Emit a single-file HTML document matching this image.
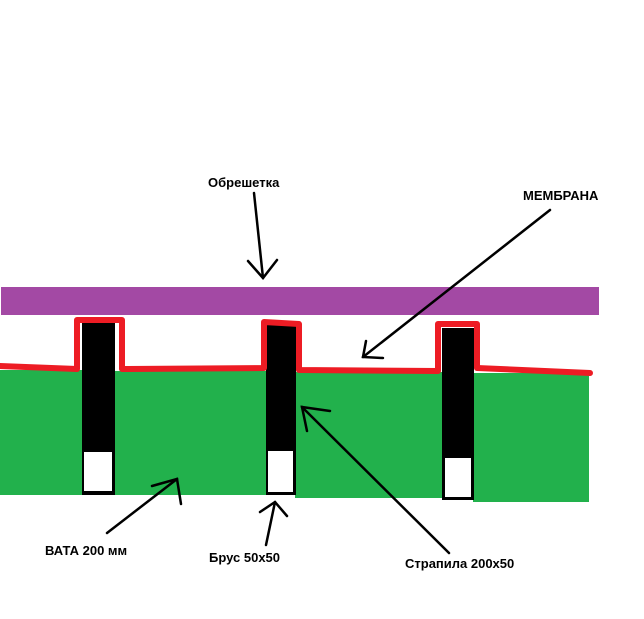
<!DOCTYPE html>
<html><head><meta charset="utf-8"><style>
html,body{margin:0;padding:0;background:#fff;}
svg{display:block;}
text{font-family:"Liberation Sans","DejaVu Sans",sans-serif;font-weight:bold;font-size:13px;fill:#000;}
</style></head><body>
<svg width="644" height="619" viewBox="0 0 644 619" xmlns="http://www.w3.org/2000/svg">
<rect x="0" y="0" width="644" height="619" fill="#fff"/>
<rect x="1" y="287" width="598" height="28" fill="#a349a4"/>
<rect x="0" y="370" width="84" height="125" fill="#22b14c"/>
<rect x="114" y="371" width="153" height="124" fill="#22b14c"/>
<rect x="295" y="372" width="149" height="126" fill="#22b14c"/>
<rect x="473" y="373" width="116" height="129" fill="#22b14c"/>
<rect x="82" y="322" width="33" height="173" fill="#000"/>
<rect x="84" y="452" width="28" height="39" fill="#fff"/>
<rect x="266" y="325" width="30" height="170" fill="#000"/>
<rect x="268" y="451" width="25" height="41" fill="#fff"/>
<rect x="442" y="328" width="32" height="172" fill="#000"/>
<rect x="445" y="458" width="26" height="39" fill="#fff"/>
<polyline fill="none" stroke="#ed1c24" stroke-width="6" stroke-linejoin="round" stroke-linecap="round"
 points="0,366 77,369 77,320 122,320 122,369 264,368 264,322 299,324 299,370 438,371 438,324 477,324 477,368 590,373"/>
<g stroke="#000" stroke-width="2.5" fill="none" stroke-linecap="round">
<line x1="254" y1="193" x2="263" y2="278"/>
<polyline points="248,261 263,278 277,260"/>
<line x1="550" y1="210" x2="363" y2="357"/>
<polyline points="366,341 363,357 383,358"/>
<line x1="107" y1="533" x2="177" y2="479"/>
<polyline points="152,486 177,479 181,504"/>
<line x1="266" y1="545" x2="275" y2="502"/>
<polyline points="260,512 275,502 287,516"/>
<line x1="449" y1="553" x2="302" y2="407"/>
<polyline points="330,411 302,407 307,431"/>
</g>
<text x="208" y="187">Обрешетка</text>
<text x="523" y="200">МЕМБРАНА</text>
<text x="45" y="555">ВАТА 200 мм</text>
<text x="209" y="562">Брус 50x50</text>
<text x="405" y="568">Страпила 200x50</text>
</svg>
</body></html>
